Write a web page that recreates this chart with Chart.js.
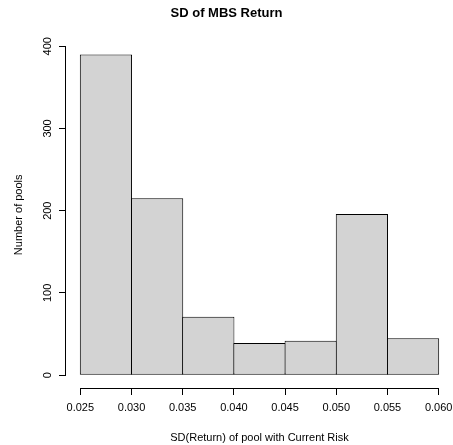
<!DOCTYPE html>
<html>
<head>
<meta charset="utf-8">
<title>SD of MBS Return</title>
<script src="https://cdn.jsdelivr.net/npm/chart.js@4/dist/chart.umd.min.js"></script>
<style>
  html, body { margin: 0; padding: 0; background: #ffffff; }
  #chart { display: block; }
</style>
</head>
<body>
<canvas id="chart" width="453" height="445"></canvas>
<script>
// histogram bins (width 0.005) and counts
const binStarts = [0.025, 0.030, 0.035, 0.040, 0.045, 0.050, 0.055];
const binWidth = 0.005;
const poolCounts = [390, 215, 71, 39, 42, 196, 45];

const xTickFirst = 0.025;
const xTickLast = 0.060;
const yTickFirst = 0;
const yTickLast = 400;

const FONT = '"Liberation Sans", Arial, Helvetica, sans-serif';

// R-style detached axes: line only from first to last tick
const rAxes = {
  id: 'rAxes',
  afterDraw(chart) {
    const { ctx, chartArea, scales } = chart;
    ctx.save();
    ctx.strokeStyle = '#000000';
    ctx.lineWidth = 1;
    ctx.beginPath();
    const yb = Math.round(chartArea.bottom) + 0.5;
    ctx.moveTo(scales.x.getPixelForValue(xTickFirst), yb);
    ctx.lineTo(scales.x.getPixelForValue(xTickLast), yb);
    const xl = Math.round(chartArea.left) - 0.5;
    ctx.moveTo(xl, scales.y.getPixelForValue(yTickFirst));
    ctx.lineTo(xl, scales.y.getPixelForValue(yTickLast));
    ctx.stroke();
    ctx.restore();
  }
};

const histData = binStarts.map((b, i) => ({ x: b + binWidth / 2, y: poolCounts[i] }));

new Chart(document.getElementById('chart'), {
  type: 'bar',
  data: {
    datasets: [{
      data: histData,
      backgroundColor: '#d3d3d3',
      borderColor: '#000000',
      borderWidth: 1,
      borderSkipped: false,
      barPercentage: 1.02,
      categoryPercentage: 1
    }]
  },
  options: {
    responsive: false,
    animation: false,
    layout: { padding: { left: 0, right: 0, top: 0, bottom: 0 } },
    plugins: {
      legend: { display: false },
      tooltip: { enabled: false },
      title: {
        display: true,
        text: 'SD of MBS Return',
        color: '#000000',
        font: { family: FONT, size: 13, weight: 'bold' },
        padding: { top: 6, bottom: 20 }
      }
    },
    scales: {
      x: {
        type: 'linear',
        min: 0.0236,
        max: 0.0614,
        offset: false,
        border: { display: false },
        grid: { display: true, offset: false, drawOnChartArea: false, drawTicks: true, tickLength: 7, color: '#000000' },
        ticks: {
          stepSize: 0.005,
          includeBounds: false,
          autoSkip: false,
          maxRotation: 0,
          color: '#000000',
          padding: 6,
          font: { family: FONT, size: 11 },
          callback: v => v.toFixed(3)
        },
        title: {
          display: true,
          text: 'SD(Return) of pool with Current Risk',
          color: '#000000',
          font: { family: FONT, size: 11 },
          padding: { top: 0, bottom: 0 }
        },
        afterFit(scale) {
          scale.height = 57;
          scale.paddingLeft = 0;
          scale.paddingRight = 0;
        }
      },
      y: {
        min: -15.6,
        max: 405.6,
        border: { display: false },
        grid: { display: true, offset: false, drawOnChartArea: false, drawTicks: true, tickLength: 7, color: '#000000' },
        ticks: {
          stepSize: 100,
          includeBounds: false,
          minRotation: 90,
          maxRotation: 90,
          crossAlign: 'center',
          color: '#000000',
          padding: 2,
          font: { family: FONT, size: 11 }
        },
        title: {
          display: true,
          text: 'Number of pools',
          color: '#000000',
          font: { family: FONT, size: 11 },
          padding: { top: 12, bottom: 0 }
        },
        afterFit(scale) { scale.width = 66; }
      }
    }
  },
  plugins: [rAxes]
});
</script>
</body>
</html>
